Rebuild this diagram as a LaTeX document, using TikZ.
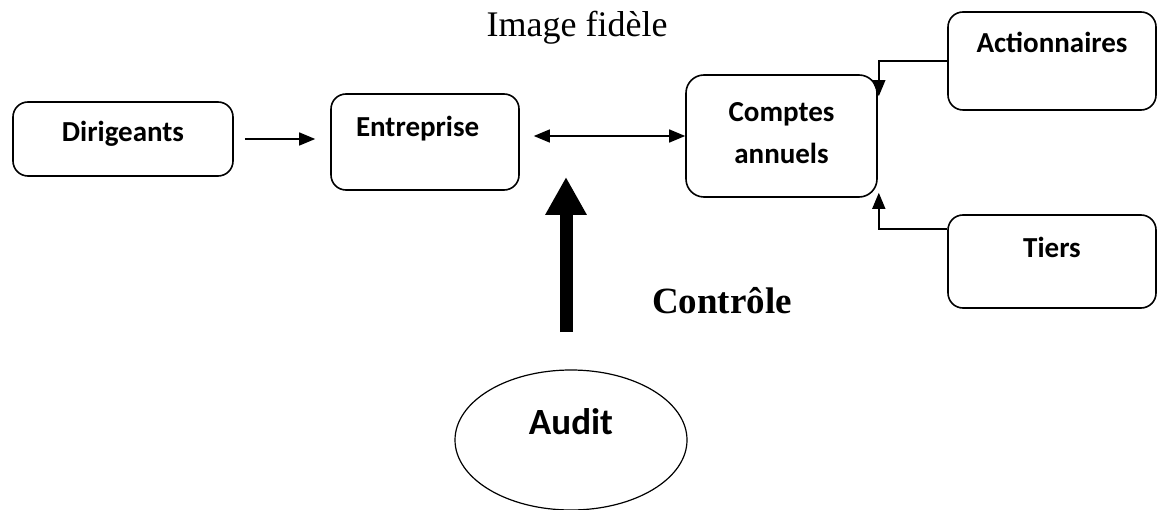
\documentclass[tikz,border=0pt]{standalone}
\usepackage{fontspec}
\setmainfont{Liberation Serif}
\newfontfamily\calibrifont{Carlito}
\usetikzlibrary{arrows.meta,shapes.geometric,calc}
\tikzset{
  box/.style={draw, line width=1.6pt, rounded corners=15pt, inner sep=0pt,
    font=\calibrifont\bfseries\fontsize{29}{42}\selectfont},
  conn/.style={line width=1.4pt, -{Triangle[length=16pt,width=13pt]}},
  dconn/.style={line width=1.4pt, {Triangle[length=16pt,width=13pt]}-{Triangle[length=16pt,width=13pt]}},
  bigarrow/.style={line width=13pt, -{Triangle[length=38pt,width=39pt]}},
}
\begin{document}
\begin{tikzpicture}[x=1pt,y=-1pt]
\fill[white] (0,0) rectangle (1158,510);
\useasboundingbox (0,0) rectangle (1158,510);

\node[font=\fontsize{36}{43}\selectfont, anchor=base] (title) at (577,37) {Image fidèle};

\node[box, minimum width=220pt, minimum height=74pt, text height=20pt, text depth=14pt] (dir) at (123,139) {Dirigeants};
\node[box, minimum width=188pt, minimum height=96pt, text height=20pt, text depth=30pt, text width=138pt, align=left] (ent) at (425,142) {Entreprise};
\node[box, rounded corners=18pt, minimum width=191pt, minimum height=122pt, align=center] (cpt) at (781.5,136) {Comptes\\annuels\rule[-6pt]{0pt}{6pt}};
\node[box, minimum width=208pt, minimum height=98pt, text height=20pt, text depth=36pt] (act) at (1052,61) {Actionnaires};
\node[box, minimum width=208pt, minimum height=93pt, text height=20pt, text depth=27pt] (tiers) at (1052,261.5) {Tiers};

\node[draw, ellipse, line width=1.2pt, inner sep=0pt, minimum width=232pt, minimum height=140pt,
  text height=24pt, text depth=36pt, font=\calibrifont\bfseries\fontsize{37}{44}\selectfont] (audit) at (571,440) {Audit};

\node[font=\bfseries\fontsize{37}{44}\selectfont, anchor=base] (ctrl) at (722,313) {Contrôle};

\draw[conn, shorten <=11pt, shorten >=15pt] (dir.east) -- (dir.east -| ent.west);
\draw[dconn, shorten <=14pt] (cpt.west -| ent.east) -- (cpt.west);

\coordinate (ain) at ([xshift=1pt,yshift=-22pt]cpt.north east);
\coordinate (tin) at ([xshift=1pt,yshift=5pt]cpt.south east);
\draw[conn] (act.west) -| (ain);
\draw[conn] ([yshift=-15pt]tiers.north west) -| (tin);

\coordinate (cb) at (566,332);
\coordinate (ct) at (566,177);
\draw[bigarrow] (cb) -- (ct);
\end{tikzpicture}
\end{document}
